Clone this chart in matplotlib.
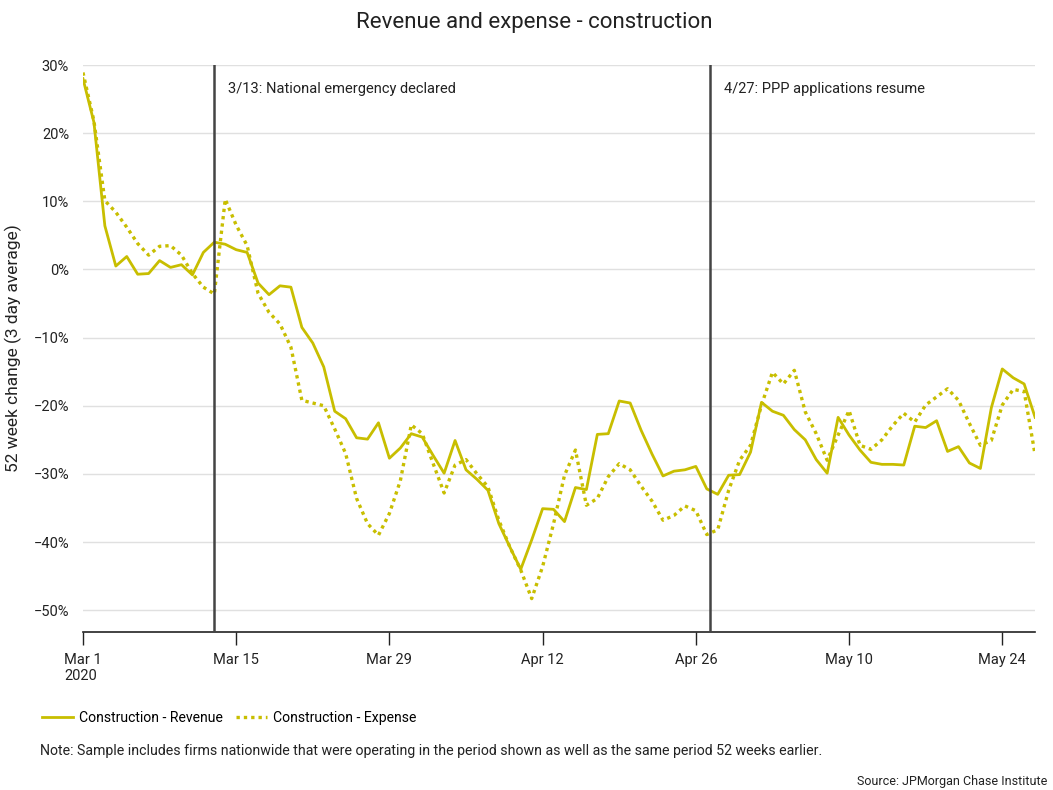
import numpy as np
import pandas as pd
import matplotlib
matplotlib.use("Agg")
import matplotlib.pyplot as plt
import matplotlib.dates as mdates

plt.rcParams['font.family'] = ['Roboto', 'DejaVu Sans']

# 52 week change (%), daily from Mar 1 2020
revenue = [28.0, 21.6, 6.4, 0.5, 1.9, -0.7, -0.6, 1.3, 0.3, 0.7,
           -0.8, 2.5, 4.0, 3.7, 2.9, 2.5, -2.0, -3.7, -2.4, -2.6,
           -8.5, -10.8, -14.3, -20.8, -21.9, -24.7, -24.9, -22.5, -27.7, -26.2,
           -24.1, -24.6, -27.3, -29.9, -25.1, -29.4, -30.8, -32.4, -37.3, -40.7,
           -44.0, -39.7, -35.1, -35.2, -37.0, -32.0, -32.3, -24.2, -24.1, -19.3,
           -19.6, -23.6, -27.1, -30.3, -29.6, -29.4, -28.9, -32.2, -33.0, -30.2,
           -30.1, -26.8, -19.5, -20.8, -21.4, -23.5, -25.0, -27.9, -29.9, -21.7,
           -24.3, -26.5, -28.3, -28.6, -28.6, -28.7, -23.0, -23.2, -22.2, -26.7,
           -26.0, -28.4, -29.2, -20.3, -14.6, -15.9, -16.8, -21.7]
expense = [28.9, 21.8, 10.1, 8.4, 6.2, 3.8, 2.1, 3.4, 3.5, 2.1,
           -0.6, -2.6, -3.6, 10.3, 6.5, 3.5, -3.5, -6.3, -8.0, -11.4,
           -19.2, -19.6, -20.0, -23.4, -27.0, -33.6, -37.3, -39.0, -35.8, -31.0,
           -22.8, -24.1, -28.5, -32.8, -28.7, -27.9, -30.0, -31.9, -36.8, -40.7,
           -44.1, -48.3, -43.6, -37.3, -30.2, -26.5, -34.6, -33.6, -30.4, -28.5,
           -29.4, -31.8, -34.0, -36.8, -36.1, -34.7, -35.4, -38.9, -38.2, -32.4,
           -28.0, -25.8, -19.9, -15.1, -16.8, -14.8, -20.9, -24.1, -28.0, -24.3,
           -20.7, -25.8, -26.4, -25.0, -22.9, -21.1, -22.4, -19.9, -18.7, -17.5,
           -19.2, -22.6, -25.8, -25.1, -19.9, -17.6, -17.9, -27.2]
dates = pd.date_range("2020-03-01", periods=len(revenue), freq="D")

tick_dates = pd.date_range("2020-03-01", "2020-05-24", freq="14D")
tick_labels = ["Mar 1\n2020", "Mar 15", "Mar 29", "Apr 12", "Apr 26", "May 10", "May 24"]
y_ticks = [30, 20, 10, 0, -10, -20, -30, -40, -50]

events = [("2020-03-13", "3/13: National emergency declared"),
          ("2020-04-27 07:00", "4/27: PPP applications resume")]

color = "#c8be00"

fig = plt.figure(figsize=(10.53, 7.90), dpi=100)
ax = fig.add_axes([0.0788, 0.2, 0.9042, 0.7177])

ax.plot(dates, revenue, color=color, lw=2, label="Construction - Revenue")
ax.plot(dates, expense, color=color, lw=2.4, ls=(0, (1, 1.2)), label="Construction - Expense")

for d, txt in events:
    ax.axvline(pd.Timestamp(d), color="#444444", lw=1.8, zorder=3)
    ax.annotate(txt, xy=(pd.Timestamp(d), 30), xytext=(10, -17),
                textcoords="offset points", fontsize=10.5, color="#222222",
                va="center", ha="left")

ax.set_xlim(dates[0], dates[-1])
ax.set_ylim(-53.2, 30)
ax.set_yticks(y_ticks)
ax.set_yticklabels([f"{v}%".replace("-", "\u2212") for v in y_ticks])
ax.set_xticks(tick_dates)
ax.set_xticklabels(tick_labels, ha="center")
ax.tick_params(axis="y", length=0, pad=10, labelsize=10.5, colors="#222222")
ax.tick_params(axis="x", length=9, width=1, pad=6, labelsize=10.5, colors="#222222")
for lab in ax.get_xticklabels():
    lab.set_multialignment("left")

ax.grid(axis="y", color="#e0e0e0", lw=1)
ax.set_axisbelow(True)
for s in ["top", "right", "left"]:
    ax.spines[s].set_visible(False)
ax.spines["bottom"].set_color("#222222")
ax.spines["bottom"].set_linewidth(1.2)

ax.set_ylabel("52 week change (3 day average)", fontsize=12.5, color="#222222", labelpad=8)

fig.suptitle("Revenue and expense - construction", x=0.507, y=0.985, fontsize=16, color="#222222")

fig.legend(loc="center left", bbox_to_anchor=(0.028, 0.091), ncol=2, frameon=False,
           fontsize=10.1, handlelength=2.2, handletextpad=0.4, columnspacing=1.0)

fig.text(0.038, 0.05, "Note: Sample includes firms nationwide that were operating in the period shown as well as the same period 52 weeks earlier.",
         fontsize=10.2, color="#222222", va="center")
fig.text(0.995, 0.011, "Source: JPMorgan Chase Institute", fontsize=9, color="#222222",
         ha="right", va="center")

fig.savefig("out.png", dpi=100)
